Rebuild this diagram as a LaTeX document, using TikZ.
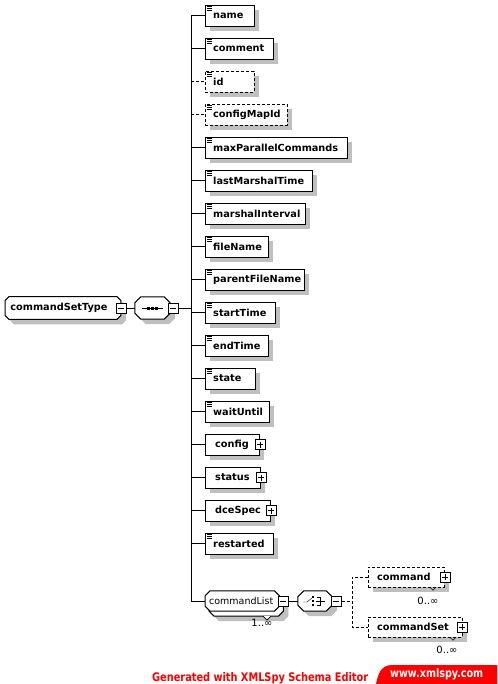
\documentclass[tikz,border=0pt]{standalone}
\usepackage{fontspec}
\usepackage{graphicx}
\setmainfont{DejaVu Sans}
\newfontfamily\footfont{DejaVu Sans Condensed}
\usetikzlibrary{shadows,backgrounds}
\definecolor{xred}{RGB}{255,0,0}
\newcommand\xsicon[1]{\draw[line width=0.8pt] ([shift={(2,2)}]#1.north west) -- ++(5,0) ([shift={(2,4)}]#1.north west) -- ++(5,0) ([shift={(2,6)}]#1.north west) -- ++(5,0);}
\newcommand\xplus[2]{\node[plusbox] (#1-p) at ([xshift=#2]#1.east) {};}
\newcommand\xchamf[5]{\begin{pgfonlayer}{background}\draw[fill=white,line width=1pt,#5] ([shift={(#3+#2,#4)}]#1.north west) -- ([shift={(#3-#2,#4)}]#1.north east) -- ([shift={(#3,#4+#2)}]#1.north east) -- ([shift={(#3,#4-#2)}]#1.south east) -- ([shift={(#3-#2,#4)}]#1.south east) -- ([shift={(#3+#2,#4)}]#1.south west) -- ([shift={(#3,#4-#2)}]#1.south west) -- ([shift={(#3,#4+#2)}]#1.north west) -- cycle;\end{pgfonlayer}}
\newcommand\xel[4]{\node[elem,#1,text width=#4pt] (#2) at (205,{15.5+33*#3}) {\hspace*{8pt}\mbox{#2}};}
\newcommand\xelp[4]{\node[elem,#1,text width=#4pt] (#2) at (205,{15.5+33*#3}) {\hspace*{10pt}\mbox{#2}};}
\begin{document}
\begin{tikzpicture}[x=1pt,y=-1pt,line width=0.9pt,
  shd/.style={drop shadow={shadow xshift=5pt,shadow yshift=-5pt,fill=black!25,opacity=1}},
  elem/.style={draw,fill=white,shd,font=\bfseries\fontsize{9.75}{11}\selectfont,minimum height=21pt,inner xsep=0pt,inner ysep=0pt,align=left,anchor=west},
  cnode/.style={font=\bfseries\fontsize{9.75}{11}\selectfont,inner xsep=0pt,inner ysep=0pt,align=left,anchor=west},
  opt/.style={dash pattern=on 3pt off 2pt},
  pmbox/.style={draw,fill=white,minimum size=10pt,inner sep=0pt,line width=0.7pt},
  minusbox/.style={pmbox,path picture={\draw[line width=0.7pt] ([xshift=2pt]path picture bounding box.west)--([xshift=-2pt]path picture bounding box.east);}},
  plusbox/.style={pmbox,path picture={\draw[line width=0.7pt] ([xshift=2pt]path picture bounding box.west)--([xshift=-2pt]path picture bounding box.east) ([yshift=-2pt]path picture bounding box.north)--([yshift=2pt]path picture bounding box.south);}},
  lbl/.style={font=\fontsize{10}{11}\selectfont,inner sep=0pt}
]
\useasboundingbox (0,0) rectangle (497,684);
\coordinate (vx) at (191,0);

% root complex type
\node[cnode,text width=115pt,minimum height=22pt] (cst) at (5,308) {\hspace*{5pt}commandSetType};
\xchamf{cst}{4}{0}{0}{shd}
\node[minusbox] (cst-m) at ([xshift=0pt]cst.east) {};

% sequence compositor
\node[inner sep=0pt,minimum width=35pt,minimum height=22pt] (seq) at (152.5,308) {};
\xchamf{seq}{6}{0}{0}{shd}
\node[minusbox] (seq-m) at ([xshift=3pt]seq.east) {};
\draw ([xshift=-11pt]seq.center) -- ([xshift=10pt]seq.center);
\foreach \d in {-4,0,4} \fill ([shift={(\d-1.5,-1.5)}]seq.center) rectangle +(3,3);
\draw (cst-m.east) -- (seq.west);

% child elements
\xel{}{name}{0}{49}
\xel{}{comment}{1}{68}
\xel{opt}{id}{2}{49}
\xel{opt}{configMapId}{3}{82}
\xel{}{maxParallelCommands}{4}{142}
\xel{}{lastMarshalTime}{5}{107}
\xel{}{marshalInterval}{6}{100}
\xel{}{fileName}{7}{63}
\xel{}{parentFileName}{8}{99}
\xel{}{startTime}{9}{70}
\xel{}{endTime}{10}{63}
\xel{}{state}{11}{50}
\xel{}{waitUntil}{12}{64}
\xelp{}{config}{13}{54}
\xelp{}{status}{14}{55}
\xelp{}{dceSpec}{15}{65}
\xel{}{restarted}{16}{68}
\foreach \n in {name,comment,id,configMapId,maxParallelCommands,lastMarshalTime,marshalInterval,fileName,parentFileName,startTime,endTime,state,waitUntil,restarted} {\xsicon{\n}}
\xplus{config}{1pt}
\xplus{status}{1pt}
\xplus{dceSpec}{1pt}

% commandList (1..inf)
\node[cnode,font=\fontsize{9.5}{11}\selectfont,text width=74pt,minimum height=20pt] (cl) at (205,601) {\hspace*{4pt}commandList};
\xchamf{cl}{5}{4}{5}{shd}
\begin{pgfonlayer}{background}
\draw[fill=white,line width=0.7pt] ([shift={(58,5)}]cl.south west) -- ++(4,4) -- ++(4,-4);
\end{pgfonlayer}
\xchamf{cl}{5}{0}{0}{}
\node[minusbox] (cl-m) at ([xshift=4pt]cl.east) {};
\node[lbl] (cl-l) at (262,623) {1..∞};

% connectors from the sequence
\draw (seq-m.east) -- (seq-m.east -| vx);
\draw (name.west) -- (name.west -| vx) -- (cl.west -| vx) -- (cl.west);
\foreach \n in {comment,maxParallelCommands,lastMarshalTime,marshalInterval,fileName,parentFileName,startTime,endTime,state,waitUntil,config,status,dceSpec,restarted} {\draw (\n.west -| vx) -- (\n.west);}
\foreach \n in {id,configMapId} {\draw[opt] (\n.west -| vx) -- (\n.west);}

% choice compositor
\node[inner sep=0pt,minimum width=34pt,minimum height=20pt] (ch) at (315,601) {};
\xchamf{ch}{6}{0}{0}{shd}
\node[minusbox] (ch-m) at ([xshift=4pt]ch.east) {};
\draw ([shift={(-12,1)}]ch.center) -- ++(4,0) -- ++(5,-4);
\foreach \d in {-4,0,4} \fill ([shift={(-3,\d-1.2)}]ch.center) rectangle +(2.4,2.4);
\draw ([shift={(2,-4)}]ch.center) -- ++(3,0) -- ++(0,8) -- ++(-3,0);
\draw ([shift={(1,0)}]ch.center) -- ++(9,0);
\draw (cl-m.east) -- (ch.west);

% choice children
\node[elem,opt,text width=76pt,minimum height=20pt] (command) at (368,577) {\hspace*{9pt}command};
\xplus{command}{1pt}
\draw[line width=0.6pt] ([shift={(62,0)}]command.south west) -- ++(3,3) -- ++(3,-3);
\node[lbl] (command-l) at (428,601) {0..∞};
\node[elem,opt,text width=94pt,minimum height=20pt] (commandSet) at (368,627) {\hspace*{9pt}commandSet};
\xplus{commandSet}{0pt}
\draw[line width=0.6pt] ([shift={(82,0)}]commandSet.south west) -- ++(3,3) -- ++(3,-3);
\node[lbl] (commandSet-l) at (447,650) {0..∞};
\coordinate (bx) at (352,601);
\draw[opt] (ch-m.east) -- (bx);
\draw[opt] (command.west) -- (command.west -| bx) -- (commandSet.west -| bx) -- (commandSet.west);

% footer
\node[anchor=base west,inner sep=0pt,text=xred] (gen) at (152,681) {\resizebox{216pt}{9pt}{\footfont\bfseries Generated with XMLSpy Schema Editor}};
\fill[xred] (376,684) .. controls (378,674) and (381,665) .. (392,665) -- (497,665) -- (497,684) -- cycle;
\node[anchor=base west,inner sep=0pt,text=white] (www) at (390,677) {\resizebox{93pt}{9pt}{\footfont\bfseries www.xmlspy.com}};
\end{tikzpicture}
\end{document}
